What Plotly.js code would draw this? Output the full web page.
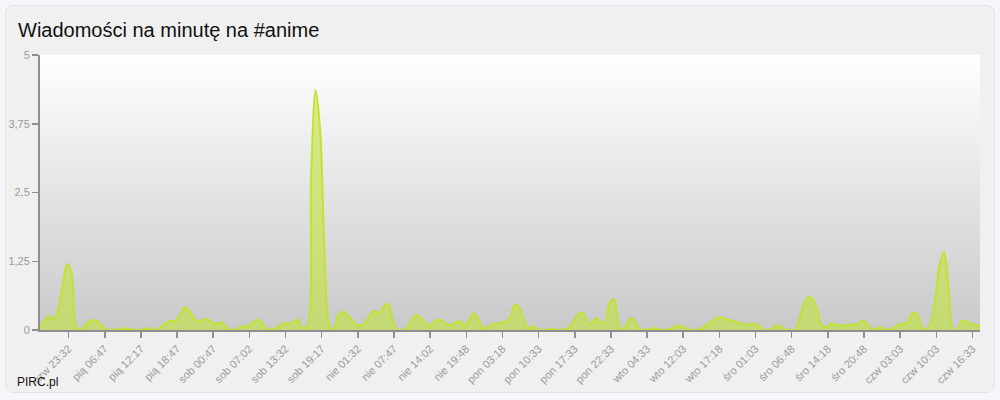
<!DOCTYPE html>
<html>
<head>
<meta charset="utf-8">
<script src="https://cdn.plot.ly/plotly-3.0.1.min.js"></script>
<style>
  html, body { margin: 0; padding: 0; background: #f5f6fa; }
  #wrap { position: relative; width: 1000px; height: 400px; }
  #box { position: absolute; left: 5px; top: 5px; width: 988px; height: 386px;
         background: #f0f0f0; border: 1px solid #e3e4ea; border-radius: 8px; }
  #chart { position: absolute; left: 0; top: 0; width: 1000px; height: 400px; }
</style>
</head>
<body>
<div id="wrap"><div id="box"></div><div id="chart"></div></div>
<script>
// Tick labels (one every 24 fifteen-minute slots)
const tickLabels = ["czw 23:32","pią 06:47","pią 12:17","pią 18:47","sob 00:47","sob 07:02",
  "sob 13:32","sob 19:17","nie 01:32","nie 07:47","nie 14:02","nie 19:48","pon 03:18",
  "pon 10:33","pon 17:33","pon 22:33","wto 04:33","wto 12:03","wto 17:18","śro 01:03",
  "śro 06:48","śro 14:18","śro 20:48","czw 03:03","czw 10:03","czw 16:33"];
// Messages per minute, read every 3rd slot
const values = [
  0.02,0.17,0.25,0.19,0.36,0.8,1.2,1.02,0.05,0,
  0.08,0.16,0.18,0.14,0.05,0,0,0.01,0.01,0.03,
  0.02,0,0,0.02,0.03,0,0.01,0.07,0.13,0.17,
  0.16,0.28,0.41,0.35,0.22,0.16,0.18,0.2,0.13,0.11,
  0.14,0.07,0,0,0.04,0.07,0.07,0.13,0.19,0.14,
  0.03,0,0.02,0.08,0.12,0.12,0.14,0.19,0.04,0.05,
  2.85,4.36,3.62,1.3,0.1,0,0.28,0.33,0.27,0.18,
  0.09,0.08,0.14,0.27,0.35,0.3,0.42,0.48,0.2,0,
  0,0.02,0.15,0.26,0.25,0.14,0.07,0.13,0.19,0.16,
  0.1,0.09,0.14,0.15,0.08,0.18,0.3,0.2,0.02,0.06,
  0.1,0.12,0.13,0.15,0.22,0.45,0.42,0.2,0.02,0.07,
  0.02,0,0,0.02,0.01,0,0.01,0.04,0.15,0.28,
  0.32,0.18,0.1,0.22,0.15,0.12,0.48,0.56,0.12,0,
  0.12,0.22,0.1,0,0,0.02,0.03,0.01,0,0.01,
  0.04,0.08,0.06,0.03,0,0,0.02,0.06,0.12,0.18,
  0.23,0.22,0.19,0.17,0.15,0.12,0.1,0.1,0.115,0.08,
  0,0,0.03,0.08,0.05,0,0,0,0.18,0.47,
  0.6,0.56,0.34,0.08,0.05,0.12,0.1,0.08,0.08,0.09,
  0.1,0.1,0.17,0.12,0.01,0.02,0.05,0.01,0,0.04,
  0.1,0.11,0.13,0.3,0.29,0.06,0,0.1,0.5,1.15,
  1.42,0.82,0,0,0.17,0.15,0.11,0.09,0.08
];
const yTickVals = [0, 1.25, 2.5, 3.75, 5];
const yTickText = ["0", "1,25", "2,5", "3,75", "5"];

const slotStep = 3, firstTickSlot = 19, slotsPerTick = 24;
const xs = values.map((v, i) => i * slotStep);
const tickVals = tickLabels.map((t, k) => firstTickSlot + k * slotsPerTick);

const grad = '<svg xmlns="http://www.w3.org/2000/svg" width="10" height="100" preserveAspectRatio="none">' +
  '<defs><linearGradient id="g" x1="0" y1="0" x2="0" y2="1">' +
  '<stop offset="0" stop-color="#ffffff"/><stop offset="1" stop-color="#c9c9c9"/></linearGradient></defs>' +
  '<rect width="10" height="100" fill="url(#g)"/></svg>';

const trace = {
  x: xs, y: values, type: 'scatter', mode: 'lines',
  line: { shape: 'spline', smoothing: 1, color: 'rgb(194,226,50)', width: 2 },
  fill: 'tozeroy', fillcolor: 'rgba(192,228,60,0.6)',
  hoverinfo: 'skip'
};

const axisCol = '#8f8f8f';
const layout = {
  width: 1000, height: 400,
  paper_bgcolor: 'rgba(0,0,0,0)', plot_bgcolor: 'rgba(0,0,0,0)',
  margin: { l: 40, r: 20, t: 55, b: 70 },
  showlegend: false,
  title: { text: 'Wiadomości na minutę na #anime', x: 0.018, xanchor: 'left', xref: 'container',
           y: 0.925, yanchor: 'middle', yref: 'container',
           font: { family: 'Liberation Sans, Arial, sans-serif', size: 20, color: '#111111' } },
  xaxis: { range: [0, (values.length - 1) * slotStep], showgrid: false, zeroline: false,
           showline: true, linecolor: axisCol, linewidth: 2,
           ticks: 'outside', ticklen: 6, tickwidth: 1.5, tickcolor: axisCol,
           tickmode: 'array', tickvals: tickVals, ticktext: tickLabels, tickangle: -45,
           tickfont: { family: 'Liberation Sans, Arial, sans-serif', size: 11, color: '#9a9a9a' } },
  yaxis: { range: [0, 5], showgrid: false, zeroline: false,
           showline: true, linecolor: axisCol, linewidth: 2,
           ticks: 'outside', ticklen: 6, tickwidth: 1.5, tickcolor: axisCol,
           tickmode: 'array', tickvals: yTickVals, ticktext: yTickText,
           tickfont: { family: 'Liberation Sans, Arial, sans-serif', size: 11, color: '#9a9a9a' } },
  images: [{ source: 'data:image/svg+xml;charset=utf-8,' + encodeURIComponent(grad),
             xref: 'paper', yref: 'paper', x: 0, y: 1, sizex: 1, sizey: 1,
             sizing: 'stretch', xanchor: 'left', yanchor: 'top', layer: 'below' }],
  annotations: [{ text: 'PIRC.pl', xref: 'paper', yref: 'paper', x: -25/940, y: -52/275,
                  xanchor: 'left', yanchor: 'middle', showarrow: false,
                  font: { family: 'Liberation Sans, Arial, sans-serif', size: 12, color: '#111111' } }]
};

Plotly.newPlot('chart', [trace], layout, { displayModeBar: false, staticPlot: true });
</script>
</body>
</html>
